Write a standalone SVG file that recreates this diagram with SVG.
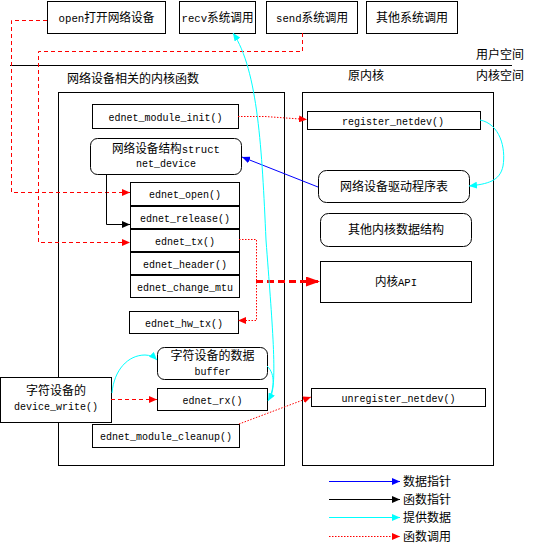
<svg xmlns="http://www.w3.org/2000/svg" width="553" height="545" viewBox="0 0 553 545">
<style>
.box{fill:#fff;stroke:#000;stroke-width:1}
.t{font-family:"Noto Sans CJK SC","Liberation Mono",sans-serif;font-size:12px;fill:#000;text-anchor:middle}
.l{font-family:"Liberation Mono","DejaVu Sans Mono",monospace;font-size:11px}
.lt{font-family:"Noto Sans CJK SC",sans-serif;font-size:12px;fill:#000}
.rd{fill:none;stroke:#f00;stroke-width:1;stroke-dasharray:4,3}
.rdot{fill:none;stroke:#f00;stroke-width:1;stroke-dasharray:1.5,1.5}
.cy{fill:none;stroke:#0ff;stroke-width:1}
</style>
<defs>
<marker id="aR" markerUnits="userSpaceOnUse" markerWidth="8" markerHeight="7" refX="8" refY="3.5" orient="auto"><path d="M0,0 L8,3.5 L0,7 z" fill="#f00"/></marker>
<marker id="aK" markerUnits="userSpaceOnUse" markerWidth="8" markerHeight="7" refX="8" refY="3.5" orient="auto"><path d="M0,0 L8,3.5 L0,7 z" fill="#000"/></marker>
<marker id="aB" markerUnits="userSpaceOnUse" markerWidth="8" markerHeight="7" refX="8" refY="3.5" orient="auto"><path d="M0,0 L8,3.5 L0,7 z" fill="#00f"/></marker>
<marker id="aC" markerUnits="userSpaceOnUse" markerWidth="8" markerHeight="7" refX="8" refY="3.5" orient="auto"><path d="M0,0 L8,3.5 L0,7 z" fill="#0ff"/></marker>
<marker id="aRB" markerUnits="userSpaceOnUse" markerWidth="14" markerHeight="10" refX="14" refY="5" orient="auto"><path d="M0,0 L14,5 L0,10 z" fill="#f00"/></marker>
</defs>
<rect width="553" height="545" fill="#fff"/>

<g id="divider">
<line x1="10" y1="65.5" x2="512" y2="65.5" stroke="#000" stroke-width="1"/>
<text class="t" x="500" y="58.5">用户空间</text>
<text class="t" x="500" y="79.5">内核空间</text>
<text class="t" x="366" y="79.5">原内核</text>
<text class="t" x="133" y="82.5">网络设备相关的内核函数</text>
</g>

<g id="area-left"><rect class="box" x="58.5" y="92.5" width="226" height="373" fill="none"/></g>
<g id="area-right"><rect class="box" x="302.5" y="92.5" width="191" height="373" fill="none"/></g>

<g id="n-open"><rect class="box" x="47.5" y="1.5" width="118" height="32"/><text class="t" x="106.5" y="21.5" textLength="96" lengthAdjust="spacingAndGlyphs"><tspan class="l">open</tspan>打开网络设备</text></g>
<g id="n-recv"><rect class="box" x="179.5" y="1.5" width="76" height="32"/><text class="t" x="217.5" y="21.5" textLength="72" lengthAdjust="spacingAndGlyphs"><tspan class="l">recv</tspan>系统调用</text></g>
<g id="n-send"><rect class="box" x="266.5" y="1.5" width="91" height="32"/><text class="t" x="312" y="21.5" textLength="72" lengthAdjust="spacingAndGlyphs"><tspan class="l">send</tspan>系统调用</text></g>
<g id="n-other-sys"><rect class="box" x="366.5" y="1.5" width="91" height="32"/><text class="t" x="412" y="21.5">其他系统调用</text></g>

<g id="n-init"><rect class="box" x="92.5" y="104.5" width="146" height="24"/><text class="t l" x="165.5" y="120.5" textLength="114" lengthAdjust="spacingAndGlyphs">ednet_module_init()</text></g>
<g id="n-netdev"><rect class="box" x="90.5" y="138.5" width="151" height="36" rx="7"/><text class="t" x="166" y="152.5" textLength="108" lengthAdjust="spacingAndGlyphs">网络设备结构<tspan class="l">struct</tspan></text><text class="t l" x="166" y="167" textLength="60" lengthAdjust="spacingAndGlyphs">net_device</text></g>
<g id="n-open-fn"><rect class="box" x="130.5" y="182.5" width="109" height="23"/><text class="t l" x="185" y="198" textLength="72" lengthAdjust="spacingAndGlyphs">ednet_open()</text></g>
<g id="n-release"><rect class="box" x="130.5" y="206.5" width="109" height="22"/><text class="t l" x="185" y="221.5" textLength="90" lengthAdjust="spacingAndGlyphs">ednet_release()</text></g>
<g id="n-tx"><rect class="box" x="130.5" y="229.5" width="109" height="22"/><text class="t l" x="185" y="244.5" textLength="60" lengthAdjust="spacingAndGlyphs">ednet_tx()</text></g>
<g id="n-header"><rect class="box" x="130.5" y="252.5" width="109" height="22"/><text class="t l" x="185" y="267.5" textLength="84" lengthAdjust="spacingAndGlyphs">ednet_header()</text></g>
<g id="n-mtu"><rect class="box" x="130.5" y="275.5" width="109" height="22"/><text class="t l" x="185" y="290.5" textLength="96" lengthAdjust="spacingAndGlyphs">ednet_change_mtu</text></g>
<g id="n-hwtx"><rect class="box" x="129.5" y="311.5" width="109" height="22"/><text class="t l" x="184" y="326.5" textLength="78" lengthAdjust="spacingAndGlyphs">ednet_hw_tx()</text></g>
<g id="n-buffer"><rect class="box" x="157.5" y="347.5" width="110" height="32" rx="7"/><text class="t" x="212.5" y="359.5">字符设备的数据</text><text class="t l" x="212.5" y="375" textLength="36" lengthAdjust="spacingAndGlyphs">buffer</text></g>
<g id="n-rx"><rect class="box" x="157.5" y="388.5" width="110" height="22"/><text class="t l" x="212.5" y="403.5" textLength="60" lengthAdjust="spacingAndGlyphs">ednet_rx()</text></g>
<g id="n-devwrite"><rect class="box" x="0.5" y="377.5" width="111" height="45"/><text class="t" x="56" y="394.5">字符设备的</text><text class="t l" x="56" y="410" textLength="84" lengthAdjust="spacingAndGlyphs">device_write()</text></g>
<g id="n-cleanup"><rect class="box" x="92.5" y="424.5" width="147" height="23"/><text class="t l" x="166" y="440" textLength="132" lengthAdjust="spacingAndGlyphs">ednet_module_cleanup()</text></g>

<g id="n-register"><rect class="box" x="307.5" y="111.5" width="173" height="18"/><text class="t l" x="393" y="124.5" textLength="102" lengthAdjust="spacingAndGlyphs">register_netdev()</text></g>
<g id="n-drvtable"><rect class="box" x="318.5" y="170.5" width="151" height="32" rx="8"/><text class="t" x="394" y="190.5">网络设备驱动程序表</text></g>
<g id="n-otherdata"><rect class="box" x="320.5" y="213.5" width="151" height="33" rx="8"/><text class="t" x="396" y="234">其他内核数据结构</text></g>
<g id="n-api"><rect class="box" x="320.5" y="261.5" width="151" height="41"/><text class="t" x="396" y="285.5" textLength="42" lengthAdjust="spacingAndGlyphs">内核<tspan class="l">API</tspan></text></g>
<g id="n-unregister"><rect class="box" x="311.5" y="388.5" width="174" height="18"/><text class="t l" x="398.5" y="401.5" textLength="114" lengthAdjust="spacingAndGlyphs">unregister_netdev()</text></g>

<g id="connectors">
<path class="rd" d="M47,20.5 H11.5 V192.5 H130" marker-end="url(#aR)"/>
<path class="rd" d="M302.5,33 V51.5 H38.5 V242.5 H130" marker-end="url(#aR)"/>
<path d="M106.5,174 V224.5 H130" fill="none" stroke="#000" marker-end="url(#aK)"/>
<path class="rdot" d="M238,116.5 L265,116.5 L307,119.5" marker-end="url(#aR)"/>
<path class="cy" d="M480,120 C500,124 506,148 503,166 C500,181 488,184 469,186" marker-end="url(#aC)"/>
<path d="M318,187 L242,157" fill="none" stroke="#00f" marker-end="url(#aB)"/>
<path class="rdot" d="M239,239.5 H256.5 V320.5 H238" marker-end="url(#aR)"/>
<path d="M256,281.5 H320" fill="none" stroke="#f00" stroke-width="3" stroke-dasharray="7,4" marker-end="url(#aRB)"/>
<path class="rd" d="M111,399.5 H157" marker-end="url(#aR)"/>
<path class="cy" d="M112,393 C114,370 128,355 145,355 C150,355 154,357 157,360" marker-end="url(#aC)"/>
<path class="cy" d="M267,366 C276,374 274,390 268,401" marker-end="url(#aC)"/>
<path class="cy" d="M270,398 C278,386 272,320 266,240 C262,150 258,70 233,33" marker-end="url(#aC)"/>
<path class="rdot" d="M239,424 L311,397" marker-end="url(#aR)"/>
</g>

<g id="legend">
<path d="M329,481.5 H400" fill="none" stroke="#00f" marker-end="url(#aB)"/>
<text class="lt" x="403" y="486">数据指针</text>
<path d="M329,499.5 H400" fill="none" stroke="#000" marker-end="url(#aK)"/>
<text class="lt" x="403" y="504">函数指针</text>
<path class="cy" d="M329,517.5 H400" marker-end="url(#aC)"/>
<text class="lt" x="403" y="522">提供数据</text>
<path class="rdot" d="M329,536.5 H400" marker-end="url(#aR)"/>
<text class="lt" x="403" y="541">函数调用</text>
</g>
</svg>
